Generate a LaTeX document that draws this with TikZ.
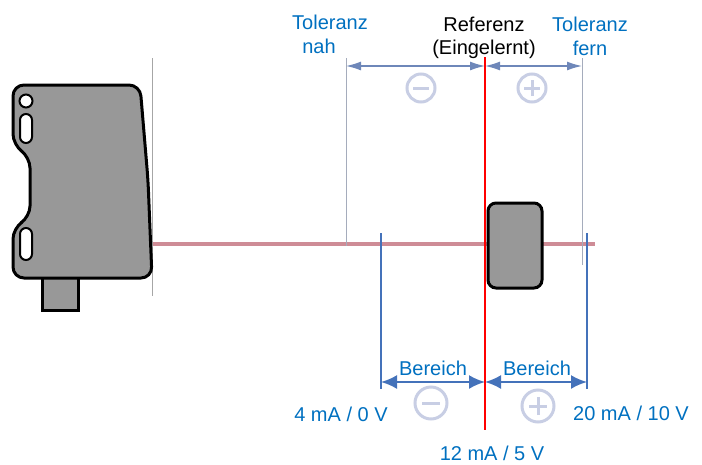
\documentclass[tikz,border=0pt]{standalone}
\usepackage{fontspec}
\setmainfont{Liberation Sans}
\usetikzlibrary{positioning}
\usetikzlibrary{arrows.meta}

\definecolor{labelblue}{RGB}{0,112,192}
\definecolor{rangeblue}{RGB}{68,114,186}
\definecolor{tolline}{RGB}{165,172,188}
\definecolor{tolarrow}{RGB}{110,135,185}
\definecolor{signgray}{RGB}{200,206,228}
\definecolor{beamred}{RGB}{206,140,150}
\definecolor{bodygray}{RGB}{152,152,152}

\begin{document}
\begin{tikzpicture}[x=1pt,y=-1pt]
  \tikzset{txt/.style={font=\fontsize{20}{24}\selectfont, inner sep=0pt, anchor=base}}
  \tikzset{blue txt/.style={txt, text=labelblue}}
  \tikzset{housing/.style={draw=black, line width=3pt, fill=bodygray}}
  \tikzset{tol arrow/.style={tolarrow, line width=1.3pt, {Latex[length=15pt,width=9pt]}-{Latex[length=15pt,width=9pt]}}}
  \tikzset{range arrow/.style={rangeblue, line width=2pt, {Latex[length=16pt,width=14pt]}-{Latex[length=16pt,width=14pt]}}}
  \tikzset{sign/.style={circle, draw=signgray, line width=3pt, inner sep=0pt}}

  \useasboundingbox (0,0) rectangle (702,464);

  % beam and front edge of the sensor
  \coordinate (beam start) at (152,244);
  \coordinate (beam end) at (595,244);
  \draw[beamred, line width=4.5pt] (beam start) -- (beam end);
  \draw[gray!70, line width=0.8pt] (152,58) -- (152,296);

  % sensor housing
  \draw[housing] (42,276) rectangle (78,310);
  \draw[housing, rounded corners=11pt]
    (13,145) -- (13,85) -- (140,85) -- (148,180) -- (152,278) -- (13,278)
    -- (13,228) -- (30,217) -- (30,157) -- cycle;
  \draw[line width=2pt, fill=white] (26,101) circle (6.5);
  \draw[line width=2pt, fill=white, rounded corners=6pt] (20,114) rectangle (32,143);
  \draw[line width=2pt, fill=white, rounded corners=6pt] (20,228) rectangle (32,260);

  % target
  \node[housing, rounded corners=8pt, minimum width=54pt, minimum height=85pt] (target) at (515,245.5) {};

  % tolerance window
  \coordinate (tol near top) at (346,58);
  \coordinate (tol near bot) at (346,246);
  \coordinate (tol far top) at (582,58);
  \coordinate (tol far bot) at (582,265);
  \draw[tolline, line width=1pt] (tol near top) -- (tol near bot);
  \draw[tolline, line width=1pt] (tol far top) -- (tol far bot);
  \coordinate (tol near) at (346,66);
  \coordinate (tol ref) at (485,66);
  \coordinate (tol far) at (582,66);
  \draw[tol arrow] (tol near) -- (tol ref);
  \draw[tol arrow] (tol ref) -- (tol far);

  \node[sign, minimum size=28pt] (tol minus) at (421,88) {};
  \draw[signgray, line width=3pt] ([xshift=-8pt]tol minus.center) -- ([xshift=8pt]tol minus.center);
  \node[sign, minimum size=28pt] (tol plus) at (532,88) {};
  \draw[signgray, line width=3pt] ([xshift=-8pt]tol plus.center) -- ([xshift=8pt]tol plus.center);
  \draw[signgray, line width=3pt] ([yshift=-8pt]tol plus.center) -- ([yshift=8pt]tol plus.center);

  % output range
  \coordinate (range low top) at (381,233);
  \coordinate (range low bot) at (381,389);
  \coordinate (range high top) at (587,233);
  \coordinate (range high bot) at (587,389);
  \draw[rangeblue, line width=1.5pt] (range low top) -- (range low bot);
  \draw[rangeblue, line width=1.5pt] (range high top) -- (range high bot);
  \coordinate (range low) at (381,382);
  \coordinate (range mid) at (485,382);
  \coordinate (range high) at (587,382);
  \draw[range arrow] (range low) -- (range mid);
  \draw[range arrow] (range mid) -- (range high);

  \node[sign, minimum size=32pt] (range minus) at (431,403) {};
  \draw[signgray, line width=3pt] ([xshift=-9pt]range minus.center) -- ([xshift=9pt]range minus.center);
  \node[sign, minimum size=32pt] (range plus) at (538,406) {};
  \draw[signgray, line width=3pt] ([xshift=-9pt]range plus.center) -- ([xshift=9pt]range plus.center);
  \draw[signgray, line width=3pt] ([yshift=-9pt]range plus.center) -- ([yshift=9pt]range plus.center);

  % taught-in reference
  \coordinate (ref top) at (485,57);
  \coordinate (ref bot) at (485,430);
  \draw[red, line width=2.5pt] (ref top) -- (ref bot);

  % labels
  \node[blue txt] (tol near a) at (330,29) {Toleranz};
  \node[blue txt] (tol near b) at (319,53) {nah};
  \node[txt] (ref a) at (484,31) {Referenz};
  \node[txt] (ref b) at (484,54) {(Eingelernt)};
  \node[blue txt] (tol far a) at (590,31) {Toleranz};
  \node[blue txt] (tol far b) at (590,55) {fern};

  \node[blue txt] (range low txt) at (433,375) {Bereich};
  \node[blue txt] (range high txt) at (537,375) {Bereich};

  \node[blue txt] (val low) at (341,421) {4 mA / 0 V};
  \node[blue txt] (val high) at (631,420) {20 mA / 10 V};
  \node[blue txt] (val mid) at (492,460) {12 mA / 5 V};
\end{tikzpicture}
\end{document}
